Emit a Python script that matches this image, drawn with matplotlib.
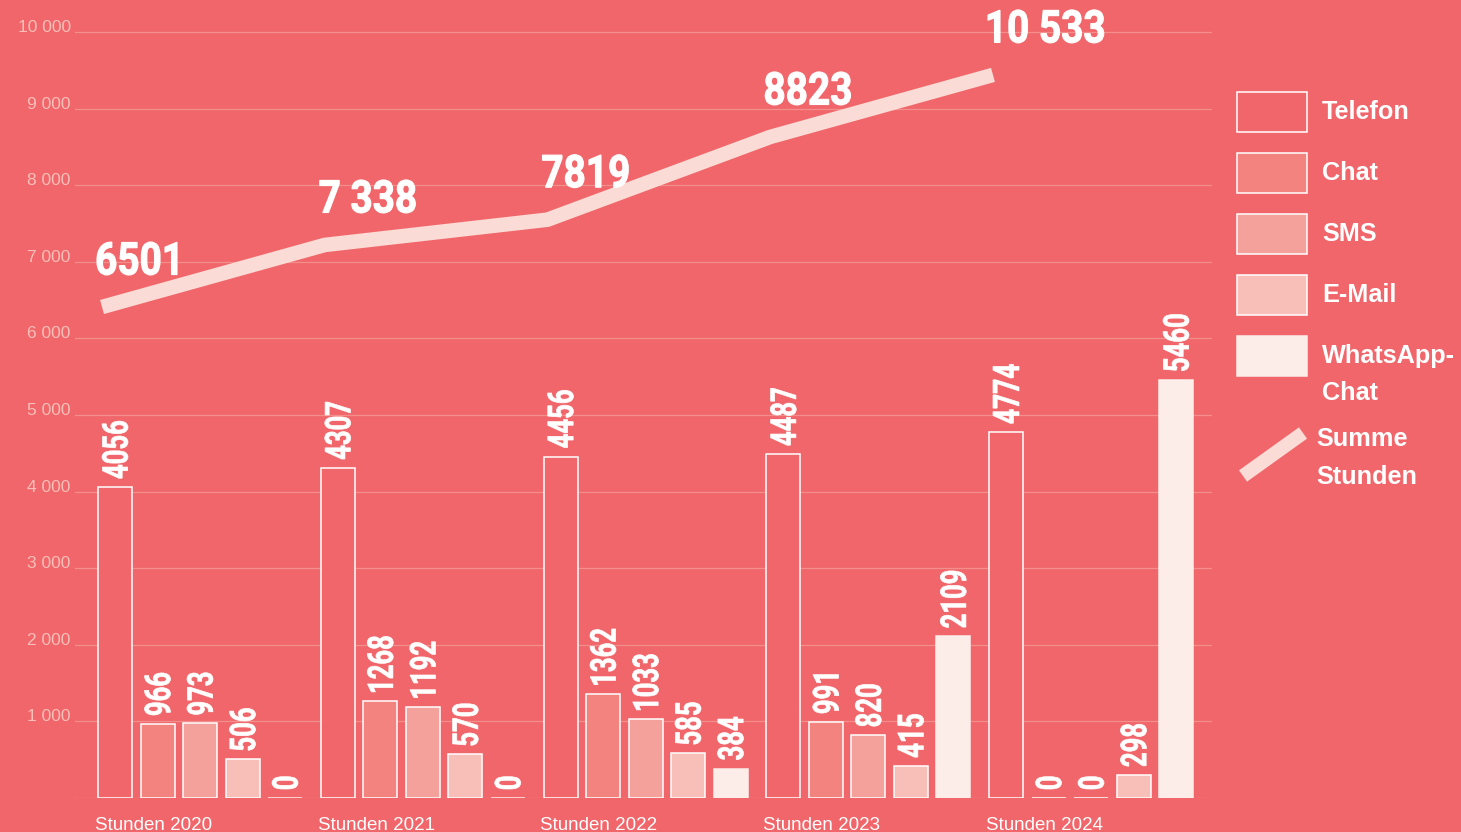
import numpy as np
import matplotlib
matplotlib.use("Agg")
import matplotlib.pyplot as plt
from matplotlib.patches import Rectangle, PathPatch
from matplotlib.lines import Line2D
from matplotlib.textpath import TextPath
from matplotlib.transforms import Affine2D
from matplotlib.font_manager import FontProperties
from matplotlib import font_manager as fm

# ---------------- data ----------------
years = ["Stunden 2020", "Stunden 2021", "Stunden 2022", "Stunden 2023", "Stunden 2024"]
telefon = [4056, 4307, 4456, 4487, 4774]
chat = [966, 1268, 1362, 991, 0]
sms = [973, 1192, 1033, 820, 0]
email = [506, 570, 585, 415, 298]
whatsapp = [0, 0, 384, 2109, 5460]
sum_labels = ["6501", "7 338", "7819", "8823", "10 533"]
sum_line = [6410, 7220, 7550, 8630, 9440]   # line heights as drawn in the picture
ytick_vals = [0, 1000, 2000, 3000, 4000, 5000, 6000, 7000, 8000, 9000, 10000]
ytick_labels = ["", "1 000", "2 000", "3 000", "4 000", "5 000", "6 000", "7 000", "8 000", "9 000", "10 000"]
legend_names = ["Telefon", "Chat", "SMS", "E-Mail", "WhatsApp-", "Chat"]
line_legend = ["Summe", "Stunden"]

# ---------------- style ----------------
BG = "#F0666A"
COLORS = [BG, "#F2837F", "#F4A19B", "#F8BEB8", "#FCEDE9"]
LINE_C = "#FBDBD5"
GRID_C = "#F48E8D"
TICK_C = "#F9BFB9"

avail = {f.name for f in fm.fontManager.ttflist}
SANS = "Liberation Sans" if "Liberation Sans" in avail else "DejaVu Sans"
COND_FP = FontProperties(family=["Roboto", "DejaVu Sans"], weight="bold")

W, H = 1461, 832
fig = plt.figure(figsize=(W / 100, H / 100), dpi=100, facecolor=BG)

ax_l, ax_r, ax_b, ax_t = 75, 1212, 798, 0
ax = fig.add_axes([ax_l / W, (H - ax_b) / H, (ax_r - ax_l) / W, (ax_b - ax_t) / H])
ax.set_facecolor(BG)
px_per_unit_y = 76.6 / 1000
ax.set_ylim(0, (ax_b - ax_t) / px_per_unit_y)

group_px = 222.75
first_px = 98
ax.set_xlim((ax_l - first_px) / group_px, (ax_r - first_px) / group_px)
bar_w = 34 / group_px
step = 42.5 / group_px
groups = np.arange(len(years))
all_series = [telefon, chat, sms, email, whatsapp]


def squeeze_for(sample, cap_px, width_px):
    tp = TextPath((0, 0), sample, size=100, prop=COND_FP)
    e = tp.get_extents()
    k = cap_px / e.height
    return width_px / (e.width * k)


def cond_text(x, y, s, cap_px, sq, rot=0, dx=0, dy=0, stroke=1.0, z=6):
    """Condensed bold text drawn as a path, anchored at data point (x, y)."""
    tp = TextPath((0, 0), s, size=100, prop=COND_FP)
    e = tp.get_extents()
    k = cap_px / e.height
    tr = Affine2D()
    if rot == 0:
        tr.translate(-e.x0, -e.y0)
    else:
        tr.translate(-e.x0, -(e.y0 + e.y1) / 2)
    tr.scale(k * sq, k)
    if rot:
        tr.rotate_deg(rot)
    X, Y = ax.transData.transform((x, y))
    tr.translate(X + dx, Y + dy)
    p = PathPatch(tp, transform=tr, facecolor="white", edgecolor="white",
                  lw=stroke, joinstyle="miter", zorder=z)
    fig.add_artist(p)


bar_cap, big_cap = 26, 33
bar_sq = squeeze_for("4774", bar_cap, 59)
big_sq = squeeze_for("6501", big_cap, 80)

for j, vals in enumerate(all_series):
    xs = groups + j * step
    ec = "white" if j < 4 else COLORS[4]
    ax.bar(xs, vals, width=bar_w, align="edge", color=COLORS[j],
           edgecolor=ec, linewidth=1.1, zorder=3)
    for x, v in zip(xs, vals):
        cond_text(x + bar_w / 2, v, f"{v}", bar_cap, bar_sq, rot=90, dy=9, stroke=0.5)

# sum line
lx = groups + 4 / group_px
ax.plot(lx, sum_line, color=LINE_C, lw=10.5, solid_capstyle="butt",
        solid_joinstyle="round", zorder=4, clip_on=False)
for x, y, s in zip(lx, sum_line, sum_labels):
    cond_text(x, y, s, big_cap, big_sq, dx=-5, dy=32, stroke=0.8)

# grid + ticks
ax.set_yticks(ytick_vals)
ax.set_yticklabels(ytick_labels)
for t in ax.get_yticklabels():
    t.set_va("baseline")
    t.set_family(SANS)
ax.tick_params(axis="y", length=0, pad=3, labelcolor=TICK_C, labelsize=12.5)
ax.yaxis.grid(True, color=GRID_C, lw=0.9, zorder=0)
ax.set_axisbelow(True)

ax.set_xticks(groups - 3 / group_px)
ax.set_xticklabels(years, ha="left", family=SANS)
ax.tick_params(axis="x", length=0, pad=14, labelcolor="white", labelsize=13.5)
for sp in ax.spines.values():
    sp.set_visible(False)

# ---------------- legend (pixel coordinates) ----------------
lax = fig.add_axes([0, 0, 1, 1])
lax.set_xlim(0, W)
lax.set_ylim(H, 0)
lax.axis("off")
lax.patch.set_alpha(0)
for k in range(5):
    y0 = 92 + k * 61
    ec = "white" if k < 4 else COLORS[4]
    lax.add_patch(Rectangle((1237, y0), 70, 40, facecolor=COLORS[k], edgecolor=ec, lw=1.1))
text_y = [112, 173, 234, 295, 356, 393]
for name, ty in zip(legend_names, text_y):
    lax.text(1322, ty, name, color="white", fontsize=18.2, fontweight="bold",
             family=SANS, va="center", ha="left")
lax.add_line(Line2D([1243, 1303], [476, 433], color=LINE_C, lw=10, solid_capstyle="butt"))
for name, ty in zip(line_legend, [439, 477]):
    lax.text(1316, ty, name, color="white", fontsize=18.2, fontweight="bold",
             family=SANS, va="center", ha="left")

fig.savefig("out.png", dpi=100, facecolor=BG)
